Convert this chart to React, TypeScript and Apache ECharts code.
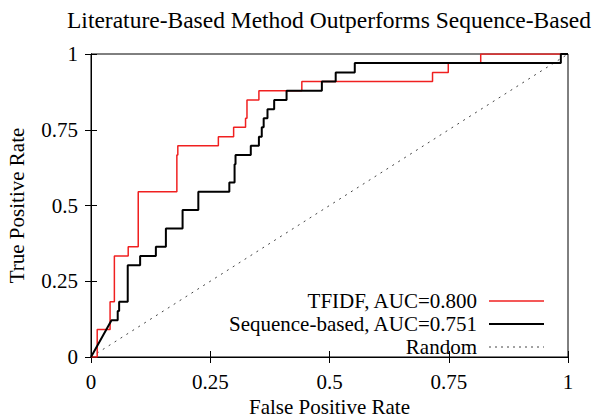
import React, { useEffect, useRef } from "react";
import * as echarts from "echarts";

const titleText = "Literature-Based Method Outperforms Sequence-Based";
const xName = "False Positive Rate";
const yName = "True Positive Rate";
const axisTicks = [0, 0.25, 0.5, 0.75, 1];

const tfidfName = "TFIDF, AUC=0.800";
const tfidfFpr = [0, 0.013, 0.013, 0.04, 0.04, 0.049, 0.049, 0.078, 0.078, 0.099, 0.099, 0.18, 0.18, 0.182, 0.182, 0.267, 0.267, 0.299, 0.299, 0.324, 0.324, 0.327, 0.327, 0.352, 0.352, 0.442, 0.442, 0.716, 0.716, 0.749, 0.749, 0.817, 0.817, 1];
const tfidfTpr = [0, 0, 0.091, 0.091, 0.182, 0.182, 0.333, 0.333, 0.364, 0.364, 0.545, 0.545, 0.667, 0.667, 0.697, 0.697, 0.727, 0.727, 0.758, 0.758, 0.788, 0.788, 0.848, 0.848, 0.879, 0.879, 0.909, 0.909, 0.939, 0.939, 0.97, 0.97, 1, 1];

const seqName = "Sequence-based, AUC=0.751";
const seqFpr = [0, 0.043, 0.056, 0.056, 0.059, 0.059, 0.077, 0.077, 0.103, 0.103, 0.136, 0.136, 0.157, 0.157, 0.192, 0.192, 0.225, 0.225, 0.29, 0.29, 0.301, 0.301, 0.303, 0.303, 0.335, 0.335, 0.352, 0.352, 0.358, 0.358, 0.362, 0.362, 0.37, 0.37, 0.384, 0.384, 0.41, 0.41, 0.484, 0.484, 0.513, 0.513, 0.553, 0.553, 0.985, 0.985, 1];
const seqTpr = [0, 0.121, 0.121, 0.152, 0.152, 0.182, 0.182, 0.303, 0.303, 0.333, 0.333, 0.364, 0.364, 0.424, 0.424, 0.485, 0.485, 0.545, 0.545, 0.576, 0.576, 0.636, 0.636, 0.667, 0.667, 0.697, 0.697, 0.727, 0.727, 0.758, 0.758, 0.788, 0.788, 0.818, 0.818, 0.848, 0.848, 0.879, 0.879, 0.909, 0.909, 0.939, 0.939, 0.97, 0.97, 1, 1];

const randomName = "Random";
const randomFpr = [0, 1];
const randomTpr = [0, 1];

const RED = "#f02020";
const BLACK = "#000000";
const GRAY = "#444444";
const FONT = "Liberation Serif";

const zip = (a: number[], b: number[]) => a.map((v, i) => [v, b[i]]);

export default function App() {
  const ref = useRef<HTMLDivElement>(null);
  useEffect(() => {
    if (!ref.current) return;
    const chart = echarts.init(ref.current, undefined, { renderer: "svg" });
    const gridL = 91, gridR = 32, gridT = 54, gridB = 60;
    const legendTextX = 477;
    const legendLineX1 = 489, legendLineX2 = 544;
    const legendY = [301, 324, 347];
    const legendItems = [
      { name: tfidfName, color: RED, width: 1.5, dash: null as any },
      { name: seqName, color: BLACK, width: 2, dash: null as any },
      { name: randomName, color: GRAY, width: 1, dash: [2, 4] },
    ];
    const graphic: any[] = [];
    legendItems.forEach((it, i) => {
      graphic.push({
        type: "text",
        x: legendTextX,
        y: legendY[i],
        style: { text: it.name, fill: "#000", font: `21px "${FONT}"`, textAlign: "right", textVerticalAlign: "middle" },
      });
      graphic.push({
        type: "line",
        shape: { x1: legendLineX1, y1: legendY[i], x2: legendLineX2, y2: legendY[i] },
        style: { stroke: it.color, lineWidth: it.width, lineDash: it.dash || undefined },
      });
    });
    const axisCommon = {
      type: "value" as const,
      min: 0,
      max: 1,
      interval: 0.25,
      splitLine: { show: false },
      axisLine: { show: true, lineStyle: { color: "#000", width: 1 } },
      axisTick: { show: true, inside: true, length: 6, lineStyle: { color: "#000" } },
    };
    chart.setOption({
      animation: false,
      backgroundColor: "#fff",
      title: {
        text: titleText,
        left: 62,
        top: 3,
        textStyle: { fontFamily: FONT, fontSize: 23.5, fontWeight: "normal", color: "#000" },
      },
      grid: {
        left: gridL, right: gridR, top: gridT, bottom: gridB,
        show: true, borderColor: "#000", borderWidth: 1,
        containLabel: false, outerBoundsMode: "none",
      },
      xAxis: [
        {
          ...axisCommon,
          position: "bottom",
          name: xName,
          nameLocation: "middle",
          nameGap: 47,
          nameTextStyle: { fontFamily: FONT, fontSize: 21, lineHeight: 21, verticalAlign: "middle", color: "#000" },
          axisLabel: { fontFamily: FONT, fontSize: 21, color: "#000", margin: 14 },
        },
        { ...axisCommon, position: "top", axisLabel: { show: false } },
      ],
      yAxis: [
        {
          ...axisCommon,
          position: "left",
          name: yName,
          nameLocation: "middle",
          nameGap: 64,
          nameTextStyle: { fontFamily: FONT, fontSize: 21, color: "#000" },
          axisLabel: { fontFamily: FONT, fontSize: 21, color: "#000", margin: 13 },
        },
        { ...axisCommon, position: "right", axisLabel: { show: false } },
      ],
      series: [
        {
          name: randomName,
          type: "line",
          data: zip(randomFpr, randomTpr),
          symbol: "none",
          lineStyle: { color: GRAY, width: 1, type: [2, 5] },
          z: 1,
        },
        {
          name: tfidfName,
          type: "line",
          data: zip(tfidfFpr, tfidfTpr),
          symbol: "none",
          lineStyle: { color: RED, width: 1.5 },
          z: 2,
        },
        {
          name: seqName,
          type: "line",
          data: zip(seqFpr, seqTpr),
          symbol: "none",
          lineStyle: { color: BLACK, width: 2 },
          z: 3,
        },
      ],
      graphic,
    });
    return () => chart.dispose();
  }, []);
  return <div ref={ref} style={{ width: 600, height: 417, position: "absolute", left: 0, top: 0 }} />;
}
